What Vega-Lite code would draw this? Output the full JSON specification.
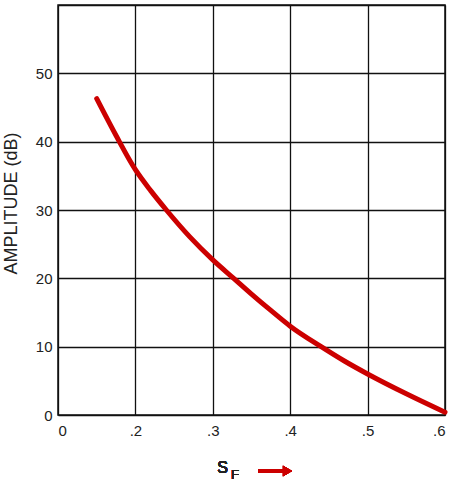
{
  "$schema": "https://vega.github.io/schema/vega-lite/v6.json",
  "width": 387,
  "height": 410,
  "autosize": {"type": "none"},
  "padding": {"left": 58, "top": 5, "right": 15, "bottom": 69},
  "background": "white",
  "config": {
    "view": {"stroke": "#111", "strokeWidth": 1.5},
    "font": "Liberation Sans",
    "axis": {
      "grid": true, "gridColor": "#111", "gridOpacity": 1, "gridWidth": 1.3,
      "domain": false, "ticks": false,
      "labelFont": "Liberation Sans", "labelFontSize": 15, "labelColor": "#222",
      "titleFont": "Liberation Sans", "titleFontWeight": "normal", "titleColor": "#222"
    }
  },
  "data": {"values": [
    {"sf": 0.15, "amp": 46.3},
    {"sf": 0.175, "amp": 40.9},
    {"sf": 0.2, "amp": 35.9},
    {"sf": 0.22, "amp": 32.8},
    {"sf": 0.24, "amp": 30.0},
    {"sf": 0.27, "amp": 26.1},
    {"sf": 0.3, "amp": 22.7},
    {"sf": 0.327, "amp": 20.0},
    {"sf": 0.35, "amp": 17.7},
    {"sf": 0.375, "amp": 15.3},
    {"sf": 0.4, "amp": 13.0},
    {"sf": 0.44, "amp": 10.0},
    {"sf": 0.47, "amp": 7.9},
    {"sf": 0.5, "amp": 6.0},
    {"sf": 0.55, "amp": 3.1},
    {"sf": 0.6, "amp": 0.4}
  ]},
  "layer": [
    {
      "mark": {"type": "line", "color": "#cc0000", "strokeWidth": 5, "interpolate": "monotone", "strokeCap": "round"},
      "encoding": {
        "x": {"field": "sf", "type": "quantitative",
          "scale": {"domain": [0.1, 0.6], "nice": false, "zero": false},
          "axis": {"values": [0.1, 0.2, 0.3, 0.4, 0.5, 0.6], "title": null, "labelPadding": 8,
            "labelExpr": "datum.value < 0.15 ? '0' : replace(format(datum.value, '.1f'), '0.', '.')"}},
        "y": {"field": "amp", "type": "quantitative",
          "scale": {"domain": [0, 60], "nice": false},
          "axis": {"values": [0, 10, 20, 30, 40, 50, 60], "title": "AMPLITUDE (dB)", "titleFontSize": 18,
            "labelPadding": 6, "labelExpr": "datum.value == 60 ? '' : datum.label",
            "titleX": -47, "titleY": 198, "titleBaseline": "middle", "titleAngle": -90}}
      }
    },
    {
      "mark": {"type": "text", "text": "S", "fontSize": 16, "fontWeight": "normal", "color": "#222", "baseline": "alphabetic", "align": "center"},
      "encoding": {"x": {"datum": 0.3125}, "y": {"datum": -8.49}}
    },
    {
      "mark": {"type": "text", "text": "F", "fontSize": 13, "fontWeight": "normal", "color": "#222", "baseline": "alphabetic", "align": "center"},
      "encoding": {"x": {"datum": 0.3287}, "y": {"datum": -9.37}}
    },
    {
      "mark": {"type": "rule", "color": "#cc0000", "strokeWidth": 3.5},
      "encoding": {"x": {"datum": 0.3584}, "x2": {"datum": 0.392}, "y": {"datum": -8.2}}
    },
    {
      "mark": {"type": "point", "shape": "triangle-right", "filled": true, "color": "#cc0000", "opacity": 1, "size": 110},
      "encoding": {"x": {"datum": 0.3965}, "y": {"datum": -8.2}}
    }
  ]
}
